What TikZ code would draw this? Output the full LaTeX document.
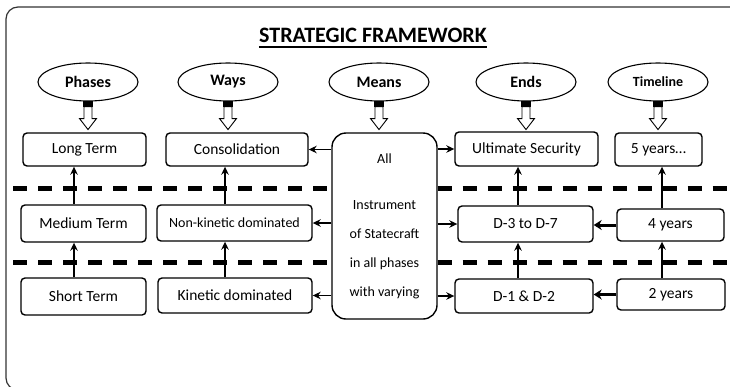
\documentclass[tikz,border=0pt]{standalone}
\usepackage{fontspec}
\setmainfont{Carlito}
\usetikzlibrary{arrows.meta,shapes.geometric}
\newcommand\hollowarrow[1]{%
  \begin{scope}[shift={(#1.south)}]
    \fill (-5,-0.5) rectangle (5,5);
    \draw[line width=0.9pt, fill=white] (-4,5) -- (-4,17) -- (-8.5,17) -- (0,28) -- (8.5,17) -- (4,17) -- (4,5) -- cycle;
  \end{scope}}
\begin{document}
\begin{tikzpicture}[x=1pt,y=-1pt,
  box/.style={draw, line width=1.4pt, rounded corners=4pt, inner sep=0pt, font=\fontsize{15.5}{18}\selectfont},
  head/.style={draw, ellipse, line width=1.1pt, minimum width=100pt, minimum height=38pt, inner sep=0pt, font=\bfseries\fontsize{16}{18}\selectfont},
  arr/.style={line width=1.5pt, -{Stealth[length=8pt,width=7.5pt]}},
  tarr/.style={line width=3pt, -{Stealth[length=8pt,width=10pt]}},
  dashline/.style={line width=4.5pt, dash pattern=on 14pt off 11pt}]
\clip (0,0) rectangle (730,386);
\useasboundingbox (0,0) rectangle (730,386);
\fill[white] (0,0) rectangle (730,386);
% frame
\draw[line width=1.2pt, rounded corners=12pt, black!80] (740,7) -- (6,7) -- (6,390) -- (740,390);
% title
\node[inner sep=0pt, font=\bfseries\fontsize{22}{24}\selectfont, anchor=base] (title) at (373,42) {STRATEGIC FRAMEWORK};
\draw[line width=1.6pt] ([yshift=-5pt]title.base west) -- ([yshift=-5pt]title.base east);
% headers
\node[head] (hP) at (88,82) {Phases};
\node[head] (hW) at (228,82) {Ways};
\node[head] (hM) at (379,82) {Means};
\node[head] (hE) at (526,82) {Ends};
\node[head, font=\bfseries\fontsize{14}{16}\selectfont] (hT) at (658,82) {Timeline};
% means box
\node[box, rounded corners=14pt, minimum width=105pt, minimum height=186pt, align=center, font=\fontsize{14}{29}\selectfont] (Means) at (384.5,226) {All\\[17pt]Instrument\\of Statecraft\\in all phases\\with varying};
% dashed separators
\draw[dashline] (13,188.5) -- (Means.west |- 0,188.5);
\draw[dashline] (Means.east |- 0,188.5) -- (735,188.5);
\draw[dashline] (13,262.5) -- (Means.west |- 0,262.5);
\draw[dashline] (Means.east |- 0,262.5) -- (735,262.5);
% top row
\node[box, minimum width=123pt, minimum height=33pt] (LT) at (84.5,149.5) {Long Term};
\node[box, minimum width=142pt, minimum height=33pt] (Cons) at (237,149.5) {Consolidation};
\node[box, minimum width=143pt, minimum height=34pt] (US) at (526.5,149) {Ultimate Security};
\node[box, minimum width=87pt, minimum height=33pt] (Y5) at (658.5,149.5) {5 years…};
% middle row
\node[box, minimum width=125pt, minimum height=37pt] (MT) at (83.5,223.5) {Medium Term};
\node[box, minimum width=155pt, minimum height=36pt, font=\fontsize{14}{16}\selectfont] (NK) at (234.5,223) {Non-kinetic dominated};
\node[box, minimum width=135pt, minimum height=36pt] (D37) at (525.5,224) {D-3 to D-7};
\node[box, minimum width=107pt, minimum height=32pt] (Y4) at (670.5,225) {4 years};
% bottom row
\node[box, minimum width=125pt, minimum height=37pt] (ST) at (83.5,296.5) {Short Term};
\node[box, minimum width=154pt, minimum height=35pt] (KD) at (235,295.5) {Kinetic dominated};
\node[box, minimum width=138pt, minimum height=34pt] (D12) at (524,296) {D-1 \& D-2};
\node[box, minimum width=108pt, minimum height=31pt] (Y2) at (671,294.5) {2 years};
% hollow arrows
\hollowarrow{hP}
\hollowarrow{hW}
\hollowarrow{hM}
\hollowarrow{hE}
\hollowarrow{hT}
% column coordinates
\coordinate (c1) at (74,0);
\coordinate (c2) at (225,0);
\coordinate (c3) at (518,0);
\coordinate (c4) at (662,0);
% vertical arrows
\draw[arr] (ST.north -| c1) -- (MT.south -| c1);
\draw[arr] (MT.north -| c1) -- (LT.south -| c1);
\draw[arr] (KD.north -| c2) -- (NK.south -| c2);
\draw[arr] (NK.north -| c2) -- (Cons.south -| c2);
\draw[arr] (D12.north -| c3) -- (D37.south -| c3);
\draw[arr] (D37.north -| c3) -- (US.south -| c3);
\draw[arr] (Y2.north -| c4) -- (Y4.south -| c4);
\draw[arr] (Y4.north -| c4) -- (Y5.south -| c4);
% horizontal arrows from means
\draw[arr] (Means.west |- Cons.east) -- (Cons.east);
\draw[arr] (Means.west |- NK.east) -- (NK.east);
\draw[arr] (Means.west |- KD.east) -- (KD.east);
\draw[arr] (Means.east |- US.west) -- (US.west);
\draw[arr] (Means.east |- D37.west) -- (D37.west);
\draw[arr] (Means.east |- D12.west) -- (D12.west);
% timeline to ends
\draw[tarr] (Y4.west) -- (Y4.west -| D37.east);
\draw[tarr] (Y2.west) -- (Y2.west -| D12.east);
\end{tikzpicture}
\end{document}
